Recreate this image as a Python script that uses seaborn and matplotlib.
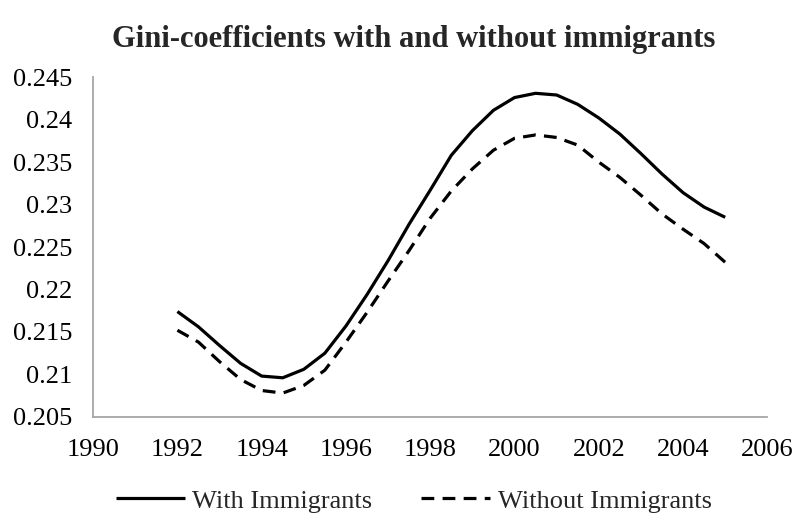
import matplotlib
matplotlib.use("Agg")
import matplotlib.pyplot as plt
import numpy as np
import pandas as pd
import seaborn as sns

sns.set_theme(style="white")
plt.rcParams["font.family"] = ["Liberation Serif", "DejaVu Serif"]

# values (every half year)
years = [1992, 1992.5, 1993, 1993.5, 1994, 1994.5, 1995, 1995.5, 1996, 1996.5,
         1997, 1997.5, 1998, 1998.5, 1999, 1999.5, 2000, 2000.5, 2001, 2001.5,
         2002, 2002.5, 2003, 2003.5, 2004, 2004.5, 2005]
with_imm = [0.2174, 0.2156, 0.2134, 0.2113, 0.2098, 0.2096, 0.2106, 0.2125, 0.2157, 0.2194,
            0.2234, 0.2277, 0.2317, 0.2358, 0.2387, 0.2411, 0.2426, 0.2431, 0.2429, 0.2418,
            0.2402, 0.2383, 0.2360, 0.2336, 0.2314, 0.2297, 0.2285]
without_imm = [0.2152, 0.2138, 0.2115, 0.2094, 0.2081, 0.2078, 0.2087, 0.2105, 0.2138, 0.2173,
               0.2210, 0.2246, 0.2284, 0.2316, 0.2342, 0.2364, 0.2378, 0.2382, 0.2379, 0.2370,
               0.2350, 0.2332, 0.2311, 0.2289, 0.2271, 0.2254, 0.2232]
series_names = ["With Immigrants", "Without Immigrants"]
x_ticks = [1990, 1992, 1994, 1996, 1998, 2000, 2002, 2004, 2006]
y_ticks = [0.205, 0.21, 0.215, 0.22, 0.225, 0.23, 0.235, 0.24, 0.245]

df = pd.DataFrame({
    "year": years * 2,
    "gini": with_imm + without_imm,
    "series": [series_names[0]] * len(years) + [series_names[1]] * len(years),
})

fig = plt.figure(figsize=(7.96, 5.25), dpi=100)
ax = fig.add_axes([0.117, 0.206, 0.847, 0.647])

sns.lineplot(data=df, x="year", y="gini", hue="series", style="series",
             palette=["black", "black"], dashes=[(None, None), (4, 2.6)],
             linewidth=2.3, ax=ax)

for line in ax.get_lines():
    line.set_dash_capstyle("butt")
    line.set_solid_capstyle("butt")
    line.set_solid_joinstyle("round")

ax.set_xlim(1990, 2006)
ax.set_ylim(0.205, 0.245)
ax.set_xticks(x_ticks)
ax.set_yticks(y_ticks)
ax.set_yticklabels([f"{v:g}" for v in y_ticks])
ax.tick_params(axis="both", labelsize=19, length=0, colors="black")
ax.tick_params(axis="y", pad=15)
ax.tick_params(axis="x", pad=16)
ax.set_xlabel("")
ax.set_ylabel("")

for side in ["top", "right"]:
    ax.spines[side].set_visible(False)
for side in ["left", "bottom"]:
    ax.spines[side].set_color("#a6a6a6")
    ax.spines[side].set_linewidth(1.3)

fig.text(0.52, 0.925, "Gini-coefficients with and without immigrants", fontsize=22,
         fontweight="bold", ha="center", va="center")

handles, labels = ax.get_legend_handles_labels()
ax.get_legend().remove()
fig.legend(handles, labels, loc="center", bbox_to_anchor=(0.52, 0.046),
           ncol=2, frameon=False, fontsize=19, handlelength=2.6,
           handletextpad=0.3, columnspacing=1.85, borderpad=0)

fig.savefig("out.png", dpi=100)
